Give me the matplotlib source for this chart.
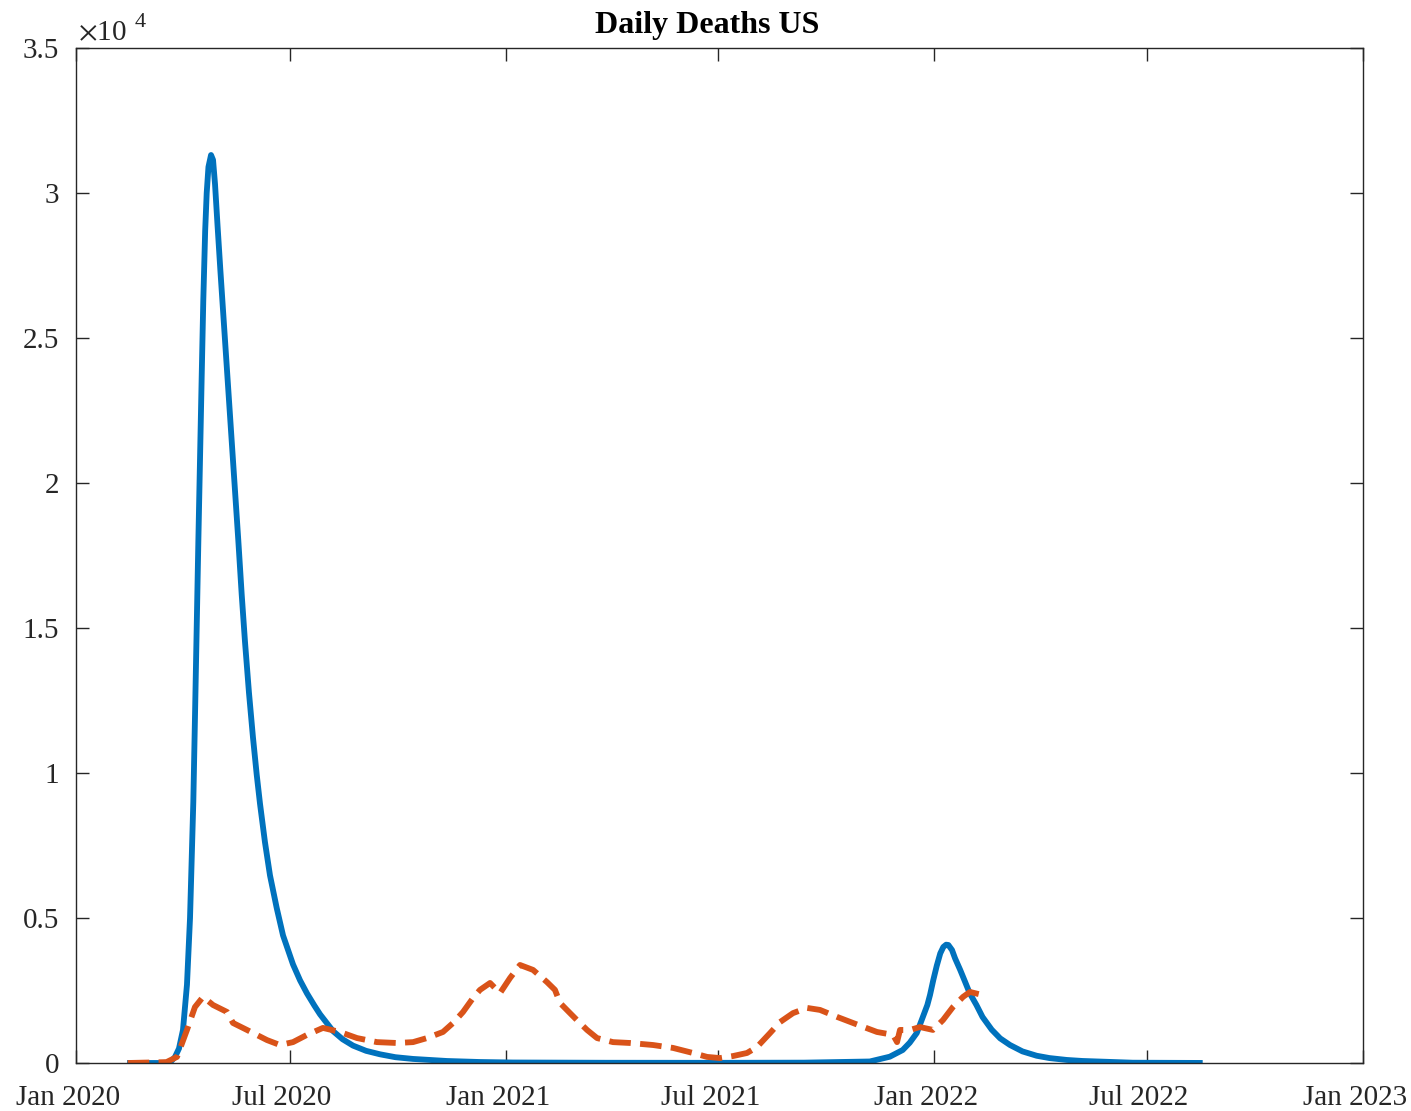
import numpy as np
import matplotlib
matplotlib.use('Agg')
import matplotlib.pyplot as plt
import matplotlib.dates as mdates
import matplotlib.transforms as mtransforms

# -------------------------------------------
# data, x in days since 2020-01-01

model_days = [46, 72, 80, 84.3, 87.7, 91.1, 94.5, 97.1, 99.9, 101.5, 104.2, 107.0,
              108.4, 110.0, 111.3, 112.8, 115.0, 116.7, 118.4, 120.5, 123.0, 128.0,
              133.0, 138.2, 141.1, 143.9, 147.3, 150.7, 153.9, 156.7, 160.9, 165.2,
              170.9, 176.3, 184.8, 190.8, 196.7, 203.0, 207.8, 218.9, 227.0, 235.9,
              247.0, 258.9, 272.0, 287.0, 315.9, 344.0, 372, 450, 550, 620,
              676, 693, 704, 710, 716, 720.2, 725, 727.3, 730, 733, 736, 738.6, 741,
              742.9, 746, 748.6, 753, 757.1, 761, 766.8, 772, 779.8, 787, 795.4,
              806, 818.1, 829, 843.7, 857, 900, 957]
model_deaths = [0, 0, 15, 207, 500, 1138, 2700, 5000, 9000, 12300, 18000, 23600,
                26300, 28700, 30000, 30900, 31310, 31140, 30300, 28900, 27300, 24250,
                21200, 18034, 16160, 14530, 12770, 11230, 9940, 8940, 7620, 6470,
                5350, 4400, 3400, 2850, 2400, 1980, 1680, 1100, 820, 600,
                420, 300, 200, 140, 69, 34, 17, 8, 6, 12,
                52, 217, 448, 700, 1034, 1483, 2000, 2350, 2850, 3350, 3780, 4000, 4080,
                4069, 3896, 3610, 3207, 2803, 2414, 2000, 1586, 1150, 850, 620,
                400, 250, 170, 105, 70, 10, 2]

data_days = [44, 77, 86, 94.5, 101.3, 108.2, 116.7, 128.6, 133.7, 145.6, 162.7, 173.7,
             184.8, 196.7, 210.3, 224.8, 239.3, 256.3, 273.4, 287.0, 298.9, 312.5,
             321.1, 329.6, 338.1, 344.0, 352.6, 361.1, 369.6, 378.1, 389.2, 401.1,
             407.9, 412.2, 420.7, 426.6, 435.2, 443.7, 457.3, 471.8, 491.4, 508.4,
             525.4, 537.4, 548.4, 559.5, 571.4, 579.9, 591.0, 599.5, 610.6, 622.5,
             633.6, 648.1, 661.7, 682.1, 695.8, 699.2, 701.7, 710.2, 718.7, 729.8,
             738.3, 746.8, 755.4, 761.3, 772.4]
data_deaths = [0, 30, 210, 1140, 1930, 2280, 2000, 1760, 1380, 1140, 790, 620,
               720, 970, 1210, 1070, 860, 720, 690, 720, 860, 1070,
               1380, 1760, 2240, 2520, 2760, 2410, 2930, 3380, 3210, 2790,
               2520, 2070, 1720, 1480, 1140, 860, 720, 690, 620, 520,
               345, 210, 170, 240, 345, 550, 1030, 1410, 1720, 1900,
               1830, 1590, 1380, 1070, 970, 720, 1140, 1140, 1240, 1140,
               1480, 1930, 2280, 2450, 2340]

yticks = [0, 5000, 10000, 15000, 20000, 25000, 30000, 35000]
ytick_labels = ['0', '0.5', '1', '1.5', '2', '2.5', '3', '3.5']

# -------------------------------------------

plt.rcParams['font.family'] = ['Liberation Serif', 'DejaVu Serif']
plt.rcParams['mathtext.fontset'] = 'stix'

start = mdates.date2num(np.datetime64('2020-01-01'))
model_x = start + np.array(model_days)
data_x = start + np.array(data_days)

fig = plt.figure(figsize=(14.11, 11.11), dpi=100)
ax = fig.add_axes([76/1411, 48/1111, 1287/1411, 1015/1111])

ax.plot(model_x, model_deaths, color='#0072BD', lw=4.2, solid_joinstyle='round')
ax.plot(data_x, data_deaths, color='#D95319', lw=4.2, ls='--', dash_capstyle='butt')

ax.set_xlim(mdates.date2num(np.datetime64('2020-01-01')), mdates.date2num(np.datetime64('2023-01-01')))
ax.set_ylim(0, 35000)
ax.xaxis.set_major_locator(mdates.MonthLocator(bymonth=[1, 7]))
ax.xaxis.set_major_formatter(mdates.DateFormatter('%b %Y'))
ax.set_yticks(yticks)
ax.set_yticklabels(ytick_labels)

for s in ax.spines.values():
    s.set_color('#262626')
    s.set_linewidth(1.0)
ax.tick_params(direction='in', length=9.4, width=1.0, colors='#262626',
               labelsize=21, top=True, right=True)
ax.tick_params(axis='x', pad=15.5)
ax.tick_params(axis='y', pad=12)

# matlab puts the date labels a little to the left
offset = mtransforms.ScaledTranslation(-8/100, 0, fig.dpi_scale_trans)
for lab in ax.get_xticklabels():
    lab.set_transform(lab.get_transform() + offset)

# exponent label, matlab style
ax.text(0.0015, 1.0079, r'$\times$10', transform=ax.transAxes, fontsize=21,
        color='#262626', ha='left', va='baseline')
ax.text(0.0458, 1.0207, '4', transform=ax.transAxes, fontsize=16,
        color='#262626', ha='left', va='baseline')

ax.text(0.4907, 1.0148, 'Daily Deaths US', transform=ax.transAxes, fontsize=23,
        fontweight='bold', color='black', ha='center', va='baseline')

fig.savefig('out.png', dpi=100)
